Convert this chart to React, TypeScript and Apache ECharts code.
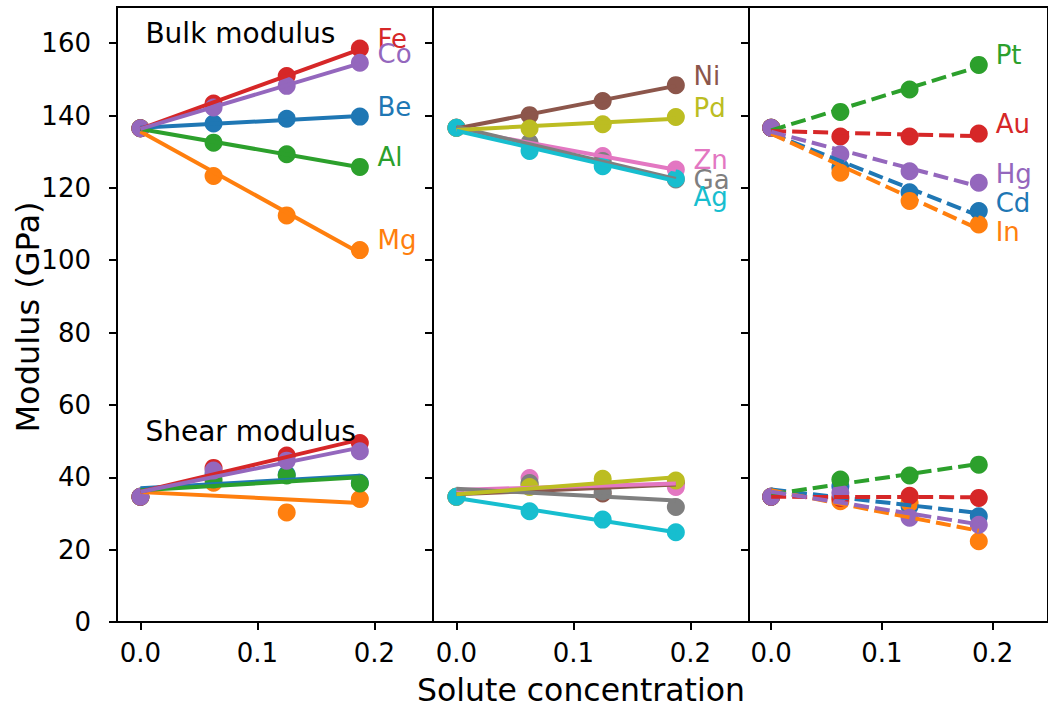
import React, { useEffect, useRef } from "react";
import * as echarts from "echarts";

// ---- data ----
const CONC = [0, 0.0625, 0.125, 0.1875];
const FIT_X = [0, 0.1875];
const X_TICKS = [0, 0.1, 0.2];
const Y_TICKS = [0, 20, 40, 60, 80, 100, 120, 140, 160];
const LABEL_X = 0.2;

const TAB10 = ["#1f77b4", "#ff7f0e", "#2ca02c", "#d62728", "#9467bd", "#8c564b", "#e377c2", "#7f7f7f", "#bcbd22", "#17becf"];

// Panel 1 (solid)
const P1_NAMES = ["Be", "Mg", "Al", "Fe", "Co"];
const P1_COLORS = [TAB10[0], TAB10[1], TAB10[2], TAB10[3], TAB10[4]];
const P1_BULK = [
  [136.5, 137.8, 139.1, 139.7],
  [136.5, 123.3, 112.4, 102.8],
  [136.5, 132.5, 129.3, 125.8],
  [136.5, 143.3, 150.9, 158.5],
  [136.5, 142.2, 148.2, 154.6],
];
const P1_BULK_FIT = [[136.6, 139.9], [135.6, 102.0], [136.3, 125.7], [136.3, 158.3], [136.3, 154.4]];
const P1_SHEAR = [
  [34.6, 41.0, 40.8, 38.5],
  [34.6, 38.5, 30.3, 34.0],
  [34.6, 39.4, 40.5, 38.3],
  [34.6, 42.6, 46.0, 49.5],
  [34.6, 41.9, 44.6, 47.2],
];
const P1_SHEAR_FIT = [[37.0, 40.4], [35.9, 32.9], [36.4, 40.0], [36.0, 50.4], [36.0, 48.2]];
const P1_LABEL_Y = [142.4, 105.5, 128.6, 161.2, 156.9];

// Panel 2 (solid)
const P2_NAMES = ["Ni", "Zn", "Ga", "Pd", "Ag"];
const P2_COLORS = [TAB10[5], TAB10[6], TAB10[7], TAB10[8], TAB10[9]];
const P2_BULK = [
  [136.6, 140.1, 144.0, 148.4],
  [136.6, 131.8, 128.8, 125.1],
  [136.6, 132.5, 127.4, 122.3],
  [136.6, 136.4, 137.6, 139.6],
  [136.6, 130.2, 126.0, 122.6],
];
const P2_BULK_FIT = [[136.4, 148.2], [136.2, 125.0], [136.9, 122.5], [136.0, 139.1], [135.8, 121.9]];
const P2_SHEAR = [
  [34.6, 38.0, 35.5, 38.4],
  [34.6, 39.8, 37.8, 37.3],
  [34.6, 38.4, 36.1, 31.8],
  [34.6, 37.3, 39.6, 39.1],
  [34.6, 30.6, 28.3, 24.8],
];
const P2_SHEAR_FIT = [[35.3, 38.0], [36.5, 38.3], [36.8, 33.6], [35.3, 40.0], [34.3, 24.8]];
const P2_LABEL_Y = [151.0, 127.6, 122.3, 142.0, 117.5];

// Panel 3 (dashed)
const P3_NAMES = ["Cd", "In", "Pt", "Au", "Hg"];
const P3_COLORS = [TAB10[0], TAB10[1], TAB10[2], TAB10[3], TAB10[4]];
const P3_BULK = [
  [136.6, 125.6, 118.8, 113.6],
  [136.6, 124.2, 116.4, 109.9],
  [136.6, 141.0, 147.2, 154.0],
  [136.6, 134.2, 134.2, 135.0],
  [136.6, 129.3, 124.6, 121.4],
];
const P3_BULK_FIT = [[135.0, 112.3], [135.0, 108.6], [135.9, 153.5], [135.7, 134.3], [135.5, 120.4]];
const P3_SHEAR = [
  [34.6, 37.5, 32.0, 29.2],
  [34.6, 33.4, 32.9, 22.3],
  [34.6, 39.4, 40.5, 43.5],
  [34.6, 34.3, 34.9, 34.3],
  [34.6, 35.7, 28.8, 26.9],
];
const P3_SHEAR_FIT = [[36.6, 30.1], [36.4, 25.2], [35.3, 43.7], [34.6, 34.5], [36.0, 27.0]];
const P3_LABEL_Y = [115.8, 107.8, 156.7, 137.6, 123.8];

const ANNOT_TEXT = ["Bulk modulus", "Shear modulus"];
const ANNOT_Y = [162.6, 52.7];

// ---- layout ----
const FONT = "DejaVu Sans";
const PANEL_LEFT = 117;
const PANEL_W = 316;
const PANEL_TOP = 7;
const PANEL_H = 615;
const LW = 4;
const MS = 18;

function panelSeries(idx: number, names: string[], colors: string[], bulk: number[][], bulkFit: number[][], shear: number[][], shearFit: number[][], labelY: number[], dashed: boolean) {
  const series: any[] = [];
  const lineType: any = dashed ? [15, 6] : "solid";
  names.forEach((n, k) => {
    const c = colors[k];
    const sets: [number[], number[]][] = [[bulkFit[k], bulk[k]], [shearFit[k], shear[k]]];
    sets.forEach(([fit, pts]) => {
      series.push({
        type: "line",
        xAxisIndex: idx,
        yAxisIndex: idx,
        showSymbol: false,
        symbol: "none",
        silent: true,
        data: FIT_X.map((x, j) => [x, fit[j]]),
        lineStyle: { color: c, width: LW, type: lineType, cap: "butt", opacity: 1 },
        itemStyle: { color: c },
      });
      series.push({
        type: "scatter",
        xAxisIndex: idx,
        yAxisIndex: idx,
        symbol: "circle",
        symbolSize: MS,
        silent: true,
        data: CONC.map((x, j) => [x, pts[j]]),
        itemStyle: { color: c, opacity: 1 },
      });
    });
  });
  series.push({
    type: "scatter",
    xAxisIndex: idx,
    yAxisIndex: idx,
    symbolSize: 0,
    silent: true,
    z: 10,
    itemStyle: { opacity: 1 },
    data: names.map((n, k) => ({ value: [LABEL_X, labelY[k]], name: n, label: { color: colors[k] } })),
    label: {
      show: true,
      formatter: "{b}",
      position: [3, 0],
      align: "left",
      verticalAlign: "middle",
      fontSize: 26,
      fontFamily: FONT,
      opacity: 1,
    },
  });
  return series;
}

export default function App() {
  const ref = useRef<HTMLDivElement>(null);
  useEffect(() => {
    if (!ref.current) return;
    const chart = echarts.init(ref.current, null, { renderer: "svg" });
    const grids: any[] = [];
    const xAxes: any[] = [];
    const yAxes: any[] = [];
    for (let i = 0; i < 3; i++) {
      grids.push({
        left: PANEL_LEFT + i * PANEL_W,
        top: PANEL_TOP,
        width: PANEL_W,
        height: PANEL_H,
        show: true,
        borderColor: "#000",
        borderWidth: 2,
        backgroundColor: "transparent",
      });
      xAxes.push({
        type: "value",
        gridIndex: i,
        min: -0.02,
        max: 0.25,
        position: "bottom",
        axisLine: { show: false, onZero: false },
        splitLine: { show: false },
        axisTick: { show: true, inside: false, length: 8, lineStyle: { color: "#000", width: 2 }, customValues: X_TICKS },
        axisLabel: {
          show: true,
          customValues: X_TICKS,
          formatter: (v: number) => v.toFixed(1),
          fontSize: 26,
          fontFamily: FONT,
          color: "#000",
          margin: 18,
        },
      });
      yAxes.push({
        type: "value",
        gridIndex: i,
        min: 0,
        max: 170,
        position: "left",
        axisLine: { show: false, onZero: false },
        splitLine: { show: false },
        axisTick: { show: true, inside: false, length: 8, lineStyle: { color: "#000", width: 2 }, customValues: Y_TICKS },
        axisLabel: {
          show: i === 0,
          customValues: Y_TICKS,
          fontSize: 26,
          fontFamily: FONT,
          color: "#000",
          margin: 26,
        },
      });
    }
    const series: any[] = [
      ...panelSeries(0, P1_NAMES, P1_COLORS, P1_BULK, P1_BULK_FIT, P1_SHEAR, P1_SHEAR_FIT, P1_LABEL_Y, false),
      ...panelSeries(1, P2_NAMES, P2_COLORS, P2_BULK, P2_BULK_FIT, P2_SHEAR, P2_SHEAR_FIT, P2_LABEL_Y, false),
      ...panelSeries(2, P3_NAMES, P3_COLORS, P3_BULK, P3_BULK_FIT, P3_SHEAR, P3_SHEAR_FIT, P3_LABEL_Y, true),
      {
        type: "scatter",
        xAxisIndex: 0,
        yAxisIndex: 0,
        symbolSize: 0,
        silent: true,
        z: 10,
        itemStyle: { opacity: 1 },
        data: ANNOT_TEXT.map((t, k) => ({ value: [0, ANNOT_Y[k]], name: t })),
        label: {
          show: true,
          formatter: "{b}",
          position: [5, 0],
          align: "left",
          verticalAlign: "middle",
          fontSize: 28,
          fontFamily: FONT,
          color: "#000",
          opacity: 1,
        },
      },
    ];
    chart.setOption({
      animation: false,
      backgroundColor: "#fff",
      grid: grids,
      xAxis: xAxes,
      yAxis: yAxes,
      series,
      graphic: [
        {
          type: "text",
          x: 581,
          y: 690,
          style: { text: "Solute concentration", fontSize: 31.5, fontFamily: FONT, fill: "#000", align: "center", verticalAlign: "middle" },
        },
        {
          type: "text",
          x: 28,
          y: 317,
          rotation: Math.PI / 2,
          style: { text: "Modulus (GPa)", fontSize: 32, fontFamily: FONT, fill: "#000", align: "center", verticalAlign: "middle" },
        },
      ],
    });
    return () => chart.dispose();
  }, []);
  return <div ref={ref} style={{ position: "fixed", left: 0, top: 0, width: 1048, height: 709 }} />;
}
